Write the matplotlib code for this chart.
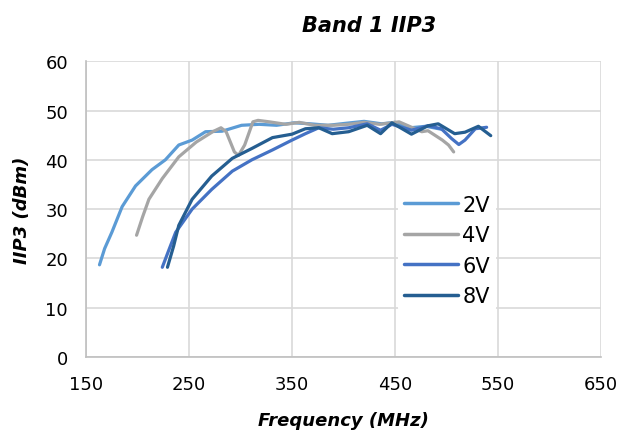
import matplotlib
matplotlib.use("Agg")
import matplotlib.pyplot as plt

# IIP3 vs frequency
freq_2v = [163, 168, 175, 185, 198, 214, 227, 240, 253, 266, 282, 301, 318, 335, 352, 368, 385, 402, 420, 437, 450, 465, 480, 495]
iip3_2v = [18.7, 22.0, 25.3, 30.5, 34.7, 38.0, 40.0, 43.0, 44.0, 45.7, 45.8, 47.0, 47.2, 47.0, 47.5, 47.3, 47.0, 47.4, 47.8, 47.3, 47.6, 46.5, 46.8, 46.2]

freq_4v = [199, 205, 211, 224, 240, 257, 273, 281, 286, 294, 298, 304, 312, 317, 328, 344, 357, 372, 390, 405, 420, 435, 454, 476, 482, 496, 502, 507]
iip3_4v = [24.7, 28.5, 32.0, 36.2, 40.6, 43.6, 45.7, 46.5, 45.7, 41.6, 40.9, 43.0, 47.7, 48.0, 47.7, 47.2, 47.6, 47.0, 47.0, 47.2, 47.6, 47.2, 47.7, 45.7, 45.9, 44.0, 43.0, 41.6]

freq_6v = [224, 230, 237, 253, 272, 292, 311, 331, 350, 363, 376, 390, 405, 423, 436, 447, 466, 482, 495, 505, 512, 518, 528, 539]
iip3_6v = [18.2, 21.5, 25.3, 30.0, 34.0, 37.7, 40.0, 42.0, 44.0, 45.3, 46.5, 46.2, 46.5, 47.3, 46.0, 47.2, 46.0, 46.9, 46.3, 44.3, 43.1, 44.0, 46.3, 46.6]

freq_8v = [229, 235, 240, 253, 272, 292, 311, 331, 350, 363, 376, 389, 405, 423, 436, 447, 466, 482, 492, 508, 518, 531, 543]
iip3_8v = [18.2, 22.5, 26.7, 32.0, 36.7, 40.3, 42.3, 44.5, 45.2, 46.3, 46.5, 45.3, 45.7, 47.0, 45.3, 47.5, 45.2, 46.9, 47.3, 45.3, 45.6, 46.8, 44.9]

series = [
    ("2V", freq_2v, iip3_2v, "#5B9BD5"),
    ("4V", freq_4v, iip3_4v, "#A5A5A5"),
    ("6V", freq_6v, iip3_6v, "#4472C4"),
    ("8V", freq_8v, iip3_8v, "#255E91"),
]

plt.rcParams['font.family'] = ['DejaVu Sans']

fig = plt.figure(figsize=(6.24, 4.35), dpi=100)
ax = fig.add_axes([0.138, 0.177, 0.825, 0.68])

for name, f, v, col in series:
    ax.plot(f, v, color=col, lw=2.3, label=name, solid_capstyle='round', solid_joinstyle='round')

ax.set_xlim(150, 650)
ax.set_ylim(0, 60)
ax.set_xticks(range(150, 651, 100))
ax.set_yticks(range(0, 61, 10))
ax.grid(True, color="#D9D9D9", lw=1.2)
ax.set_axisbelow(True)
for side in ['top', 'right']:
    ax.spines[side].set_visible(False)
for side in ['left', 'bottom']:
    ax.spines[side].set_color('#BFBFBF')
    ax.spines[side].set_linewidth(1.2)
ax.tick_params(length=0, labelsize=13, colors="#000000")
ax.tick_params(axis='y', pad=13)
ax.tick_params(axis='x', pad=13)

ax.set_title("Band 1 IIP3", fontsize=15, fontweight='bold', style='italic', pad=22, x=0.549)
ax.set_xlabel("Frequency (MHz)", fontsize=13, fontweight='bold', style='italic', labelpad=13)
ax.set_ylabel("IIP3 (dBm)", fontsize=13, fontweight='bold', style='italic', labelpad=10)

leg = ax.legend(loc='upper left', bbox_to_anchor=(0.585, 0.605), frameon=True, fontsize=15,
                handlelength=2.6, labelspacing=0.5, handletextpad=0.2, borderpad=0.3)
leg.get_frame().set_edgecolor('none')
leg.get_frame().set_facecolor('white')
leg.get_frame().set_alpha(1)
for line in leg.get_lines():
    line.set_linewidth(2.5)

fig.savefig("out.png", dpi=100)
